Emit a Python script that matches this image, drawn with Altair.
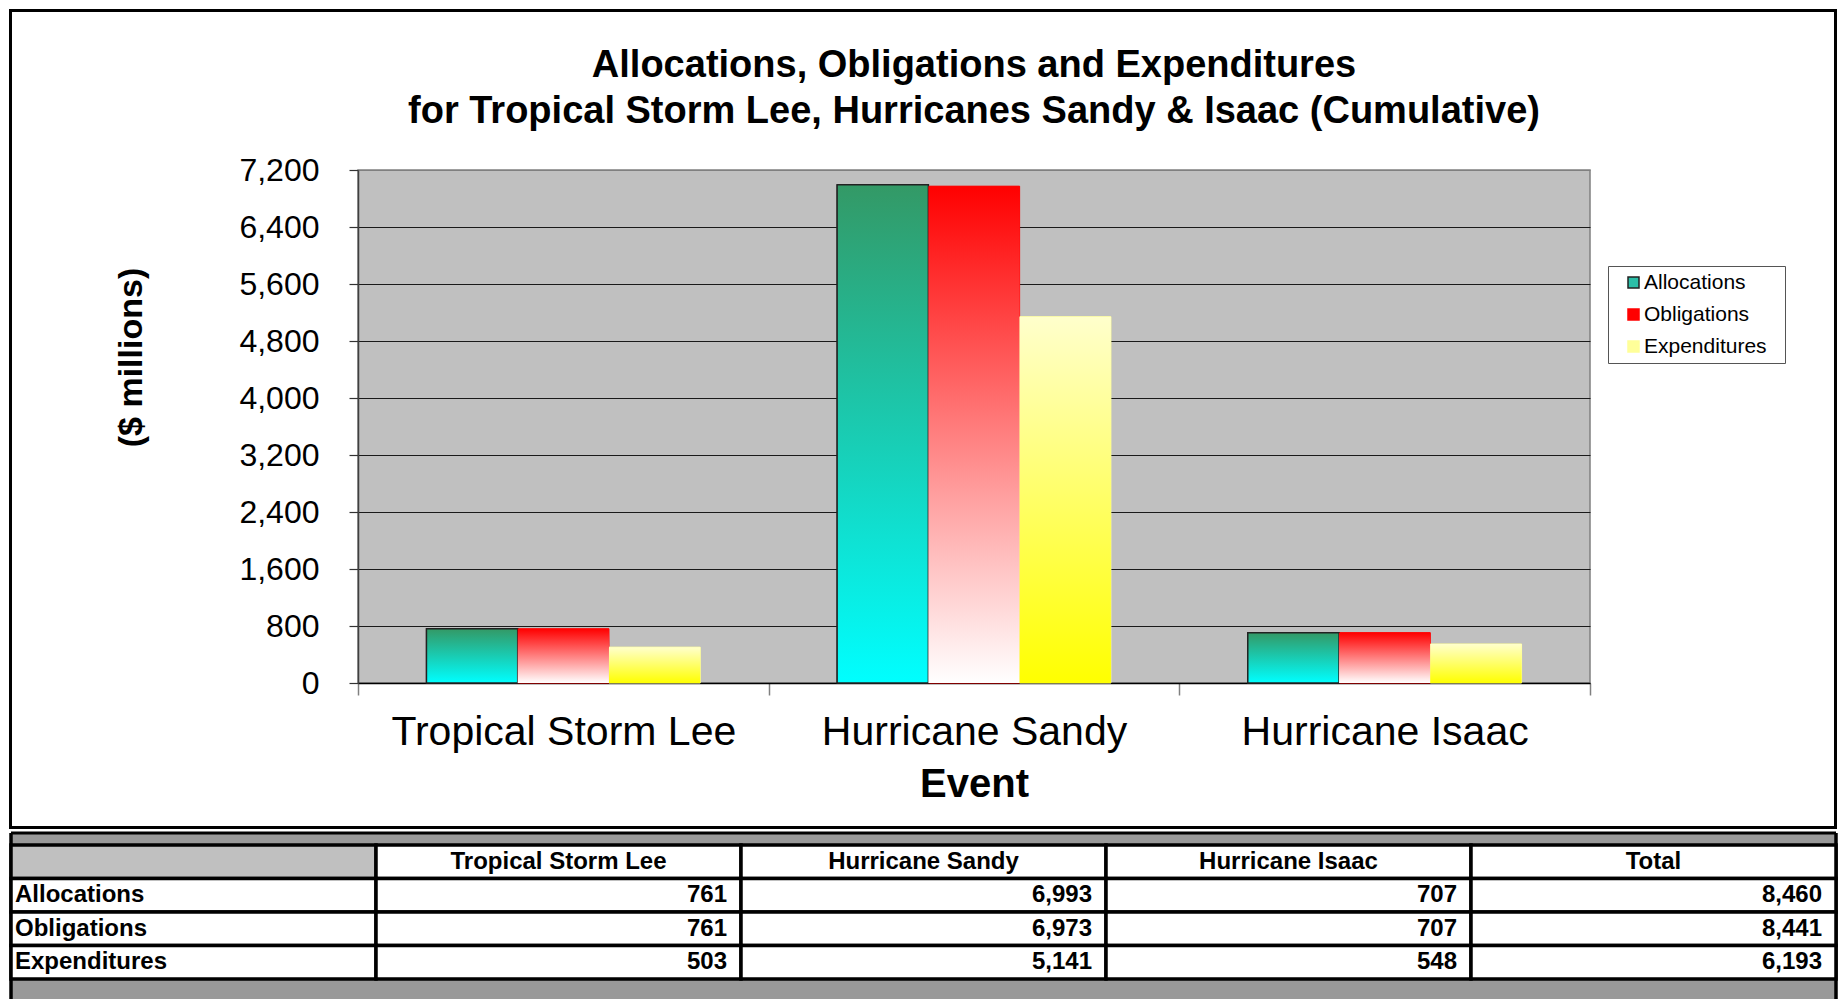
import altair as alt
import pandas as pd

# ---------------- data ----------------
events = ["Tropical Storm Lee", "Hurricane Sandy", "Hurricane Isaac"]
series = ["Allocations", "Obligations", "Expenditures"]
allocations = [761, 6993, 707]
obligations = [761, 6973, 707]
expenditures = [503, 5141, 548]
totals = [8460, 8441, 6193]
y_ticks = [0, 800, 1600, 2400, 3200, 4000, 4800, 5600, 6400, 7200]
title_lines = [
    "Allocations, Obligations and Expenditures",
    "for Tropical Storm Lee, Hurricanes Sandy & Isaac (Cumulative)",
]
y_title = "($ millions)"
x_title = "Event"
total_label = "Total"

FONT = "Liberation Sans"

values_by_series = {
    "Allocations": allocations,
    "Obligations": obligations,
    "Expenditures": expenditures,
}
bars = pd.DataFrame(
    [
        {"event": e, "series": s, "value": values_by_series[s][i]}
        for s in series
        for i, e in enumerate(events)
    ]
)
one = pd.DataFrame({"k": [0]})


def grad(top, bottom):
    return alt.Gradient(
        gradient="linear", x1=0, y1=0, x2=0, y2=1,
        stops=[alt.GradientStop(color=top, offset=0),
               alt.GradientStop(color=bottom, offset=1)],
    )


gradients = {
    "Allocations": grad("#339966", "#00ffff"),
    "Obligations": grad("#ff0000", "#ffffff"),
    "Expenditures": grad("#ffffcc", "#ffff00"),
}

# ---------------- top chart ----------------
x_enc = alt.X(
    "event:N", sort=events,
    scale=alt.Scale(domain=events, paddingInner=0, paddingOuter=0),
    axis=alt.Axis(
        title=x_title, labelFontSize=41, labelColor="black", labelPadding=17,
        labelLimit=600, labelAngle=0, domainColor="black", domainWidth=1.5,
        tickColor="#808080", tickSize=12, tickWidth=1.5, tickBand="extent",
        grid=False, titleFontSize=40, titleFontWeight="bold", titleColor="black",
        titleY=101, titleBaseline="middle",
    ),
)
y_enc = alt.Y(
    "value:Q",
    scale=alt.Scale(domain=[0, 7200], nice=False),
    axis=alt.Axis(
        values=y_ticks, format=",d", title=y_title, labelFontSize=32,
        labelColor="black", labelPadding=30, tickSize=9, tickColor="#333333",
        tickWidth=1.2, domainColor="#404040", domainWidth=1.5, grid=True,
        gridColor={"condition": {"test": "datum.value >= 7200", "value": "#808080"},
                   "value": "#1a1a1a"},
        gridWidth=1.2, titleFontSize=34, titleFontWeight="bold", titleColor="black",
        titleAngle=270, titleX=-227, titleY=187, titleBaseline="middle",
        titleAlign="center",
    ),
)
xo = alt.XOffset(
    "series:N", sort=series,
    scale=alt.Scale(domain=series, paddingInner=0, paddingOuter=0.75),
)

legend_def = alt.Legend(
    title="\u00a0", titleOrient="right", titlePadding=12, titleFontSize=12,
    orient="none", legendX=1250, legendY=96, symbolType="square",
    symbolSize=121, symbolStrokeWidth=1.5, symbolOffset=9, labelFontSize=21,
    labelColor="black", labelFont=FONT, labelOffset=0, padding=6, rowPadding=10,
    strokeColor="#555555", fillColor="white", labelLimit=300,
)

legend_layer = alt.Chart(bars).mark_bar().encode(
    x=x_enc, xOffset=xo, y=y_enc,
    color=alt.Color("series:N", sort=series,
                    scale=alt.Scale(domain=series, range=["#2bbfa8", "#ff0000", "#ffff99"]),
                    legend=legend_def),
    stroke=alt.Stroke("series:N", sort=series,
                      scale=alt.Scale(domain=series, range=["#222222", "#ff0000", "#ffff99"]),
                      legend=legend_def),
)

grad_layers = []
for s in series:
    kw = {"fill": gradients[s]}
    if s == "Allocations":
        kw.update(stroke="#222222", strokeWidth=1.5)
    grad_layers.append(
        alt.Chart(bars).transform_filter(alt.datum.series == s)
        .mark_bar(**kw).encode(x=x_enc, xOffset=xo, y=y_enc)
    )

frame = alt.Chart(one).mark_rect(filled=False, stroke="black", strokeWidth=3).encode(
    x=alt.value(-347.5), x2=alt.value(1477.5), y=alt.value(-159.5), y2=alt.value(657.5)
)

top = alt.layer(frame, legend_layer, *grad_layers).properties(
    width=1232, height=513,
    title=alt.TitleParams(
        text=title_lines, fontSize=38, font=FONT, fontWeight="bold", color="black",
        anchor="middle", frame="group", offset=-122, lineHeight=46,
    ),
    view=alt.ViewBackground(fill="#c0c0c0", stroke="#808080", strokeWidth=1.5),
)

# ---------------- table ----------------
table_cols = ["rowhead"] + events + [total_label]
table_rows = ["header"] + series

cells = pd.DataFrame(
    [
        {"col": c, "row": r,
         "fill": "#c0c0c0" if (c == "rowhead" and r == "header") else "#ffffff"}
        for r in table_rows for c in table_cols
    ]
)
head_df = pd.DataFrame([{"col": c, "row": "header", "text": c} for c in events + [total_label]])
rowlab_df = pd.DataFrame([{"col": "rowhead", "row": s, "text": s} for s in series])
num_rows = []
for s in series:
    vals = values_by_series[s] + [totals[series.index(s)]]
    for c, v in zip(events + [total_label], vals):
        num_rows.append({"col": c, "row": s, "text": f"{v:,}"})
num_df = pd.DataFrame(num_rows)


def tx(bp=None):
    extra = {} if bp is None else {"bandPosition": bp}
    return alt.X("col:N", sort=table_cols,
                 scale=alt.Scale(domain=table_cols, range=[-347, 1478],
                                 paddingInner=0, paddingOuter=0),
                 axis=None, **extra)


ty = alt.Y("row:N", sort=table_rows,
           scale=alt.Scale(domain=table_rows, range=[12, 146], paddingInner=0, paddingOuter=0),
           axis=None)

bg = alt.Chart(one).mark_rect(fill="#999999").encode(
    x=alt.value(-347), x2=alt.value(1478), y=alt.value(0), y2=alt.value(166)
)
top_line = alt.Chart(one).mark_rule(color="black", strokeWidth=3).encode(
    x=alt.value(-347), x2=alt.value(1478), y=alt.value(0)
)
left_line = alt.Chart(one).mark_rule(color="black", strokeWidth=3.5).encode(
    x=alt.value(-347), y=alt.value(0), y2=alt.value(166)
)
right_line = alt.Chart(one).mark_rule(color="black", strokeWidth=3.5).encode(
    x=alt.value(1478), y=alt.value(0), y2=alt.value(166)
)
cell_layer = alt.Chart(cells).mark_rect(stroke="black", strokeWidth=3.5).encode(
    x=tx(), y=ty, fill=alt.Fill("fill:N", scale=None)
)
head_text = alt.Chart(head_df).mark_text(
    fontSize=24, fontWeight="bold", color="black", align="center", baseline="middle"
).encode(x=tx(), y=ty, text="text:N")
row_text = alt.Chart(rowlab_df).mark_text(
    fontSize=24, fontWeight="bold", color="black", align="left", baseline="middle", dx=4
).encode(x=tx(0), y=ty, text="text:N")
num_text = alt.Chart(num_df).mark_text(
    fontSize=24, fontWeight="bold", color="black", align="right", baseline="middle", dx=-14
).encode(x=tx(1), y=ty, text="text:N")

table = alt.layer(bg, top_line, left_line, right_line, cell_layer,
                  head_text, row_text, num_text).properties(
    width=1478, height=166,
    view=alt.ViewBackground(fill="transparent", stroke="transparent"),
)

chart = alt.vconcat(top, table, spacing=0).properties(
    padding=0, background="white"
).configure(font=FONT)

chart.save("out.html", embed_options={"renderer": "svg", "actions": False})
